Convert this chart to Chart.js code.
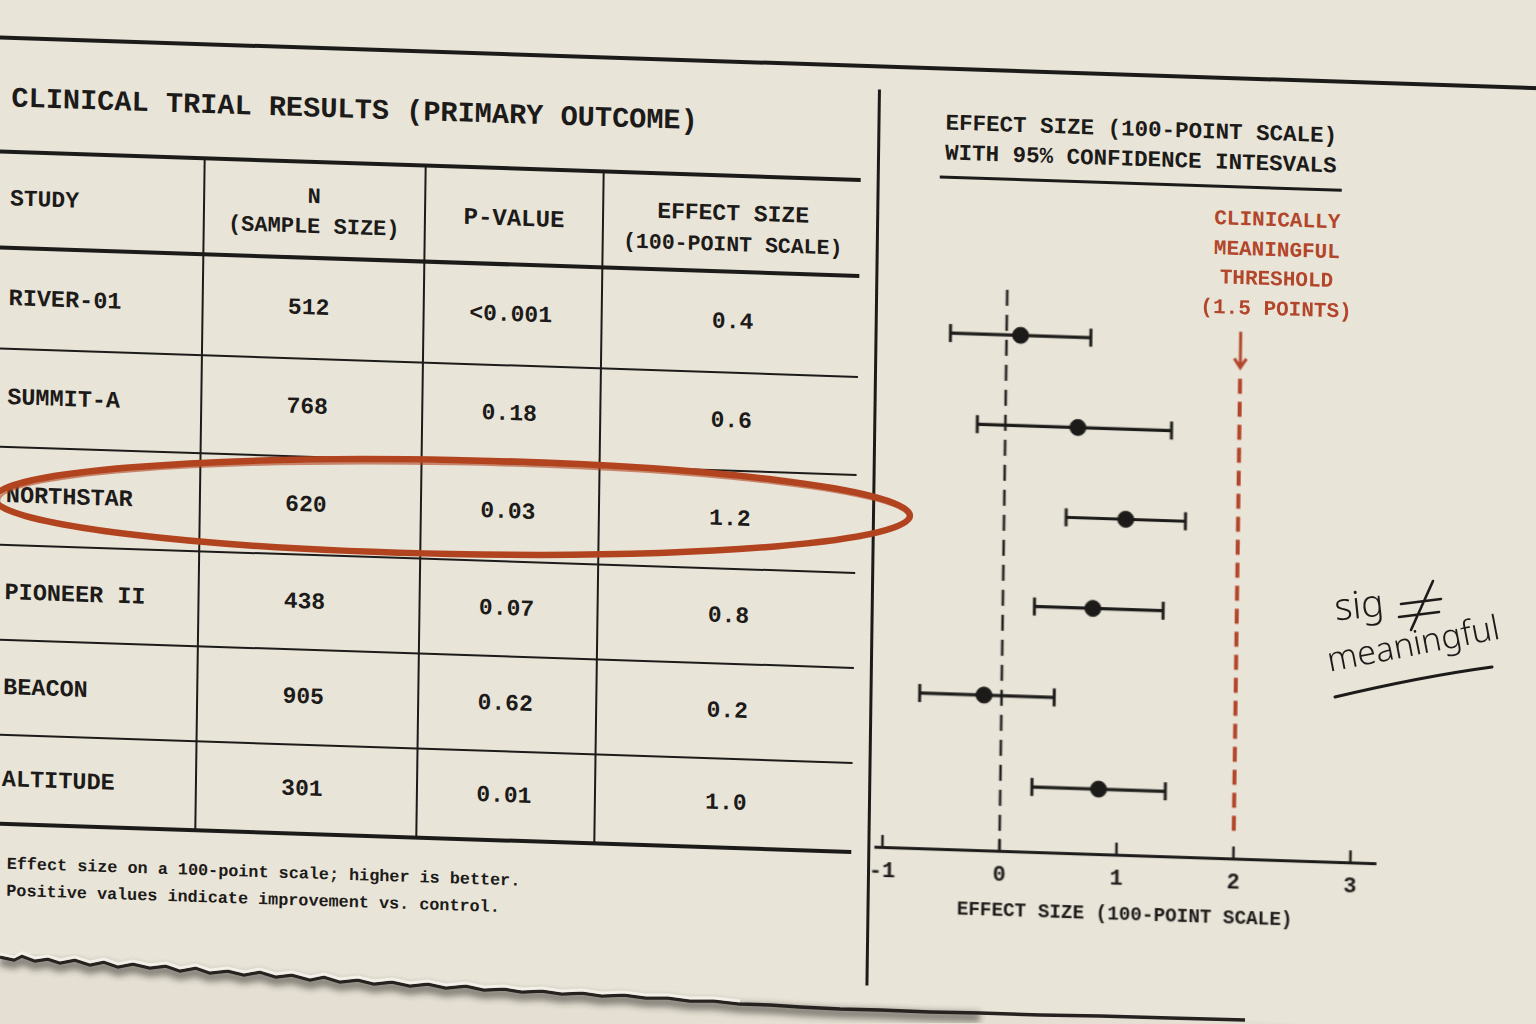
<!DOCTYPE html>
<html>
<head>
<meta charset="utf-8">
<script src="https://cdn.jsdelivr.net/npm/chart.js@4.4.0/dist/chart.umd.min.js"></script>
<style>
html, body { margin: 0; padding: 0; width: 1536px; height: 1024px; overflow: hidden; background: #ebe6da; }
#paper {
    position: absolute; left: 0; top: 0; width: 1536px; height: 1024px;
    transform-origin: 768px 512px;
    transform: matrix(1, 0.033, -0.014, 1, 0, 0);
    font-family: "Liberation Mono", "DejaVu Sans Mono", monospace;
    font-weight: bold; color: #1c1b19;
}
.ln { position: absolute; background: #1c1b19; }
.txt { position: absolute; white-space: pre; line-height: 1; }
#forest { position: absolute; left: 862px; top: 270px; }
.overlay { position: absolute; left: 0; top: 0; width: 1536px; height: 1024px; pointer-events: none; }
.hand { position: absolute; font-family: "Noto Sans", sans-serif; font-weight: 300; color: #1c1b19; white-space: pre; line-height: 1; }
</style>
</head>
<body>
<div id="paper">
    <canvas id="forest" width="538" height="653"></canvas>
</div>

<svg class="overlay" viewBox="0 0 1536 1024">
    <defs>
        <filter id="blur4"><feGaussianBlur stdDeviation="3"/></filter>
    </defs>
    <!-- circle round the NORTHSTAR row -->
    <g transform="rotate(1.1 452 507)" fill="none" stroke="#b3441f" stroke-linecap="round">
        <ellipse cx="452" cy="507" rx="458" ry="47" stroke-width="6.5"/>
        <ellipse cx="454" cy="509" rx="455" ry="45" stroke-width="2.5" opacity="0.6"/>
    </g>
    <!-- torn bottom edge -->
    <path id="tear-fill" fill="#e6e1d4" stroke="none"/>
    <path id="tear-shadow" fill="none" stroke="#2a2723" stroke-width="10" opacity="0.5" filter="url(#blur4)"/>
    <path id="tear-line" fill="none" stroke="#25221f" stroke-width="3.5"/>
    <path id="tear-fiber" fill="none" stroke="#f6f3ec" stroke-width="3" opacity="0.95"/>
    <!-- handwritten note: not-equal sign and underline -->
    <path d="M1401 604 L1441 599 M1399 617 L1439 612 M1433 581 L1411 630" fill="none" stroke="#1c1b19" stroke-width="2.6" stroke-linecap="round"/>
    <path d="M1335 697 C1390 684 1440 674 1492 667" fill="none" stroke="#1c1b19" stroke-width="3" stroke-linecap="round"/>
</svg>
<div class="hand" style="left:1334px; top:584px; font-size:38px; transform: rotate(-6deg);">sig</div>
<div class="hand" style="left:1327px; top:642px; font-size:34px; transform-origin: 0 50%; transform: rotate(-11deg);">meaningful</div>

<svg class="overlay" viewBox="0 0 1536 1024" style="mix-blend-mode: multiply;">
    <filter id="grain"><feTurbulence type="fractalNoise" baseFrequency="0.85" numOctaves="2" stitchTiles="stitch"/><feColorMatrix type="saturate" values="0"/></filter>
    <rect width="1536" height="1024" filter="url(#grain)" opacity="0.05"/>
</svg>

<script>
const studies = ['RIVER-01', 'SUMMIT-A', 'NORTHSTAR', 'PIONEER II', 'BEACON', 'ALTITUDE'];
const sampleSizes = ['512', '768', '620', '438', '905', '301'];
const pValues = ['<0.001', '0.18', '0.03', '0.07', '0.62', '0.01'];
const effectSizes = ['0.4', '0.6', '1.2', '0.8', '0.2', '1.0'];

// forest plot, as drawn
const ciLow = [-0.48, -0.24, 0.53, 0.27, -0.70, 0.27];
const estimate = [0.12, 0.62, 1.04, 0.77, -0.15, 0.84];
const ciHigh = [0.72, 1.42, 1.55, 1.37, 0.45, 1.41];
const threshold = 2.0;
const xMin = -1.06;
const xMax = 3.214;

const ink = '#1c1b19';
const rust = '#b4462a';
const mono = "'Liberation Mono', 'DejaVu Sans Mono', monospace";

const paper = document.getElementById('paper');

function addLine(x, y, w, h) {
    const el = document.createElement('div');
    el.className = 'ln';
    el.style.left = x + 'px';
    el.style.top = y + 'px';
    el.style.width = w + 'px';
    el.style.height = h + 'px';
    paper.appendChild(el);
}

function addText(text, x, y, size, align, color) {
    const el = document.createElement('div');
    el.className = 'txt';
    el.textContent = text;
    el.style.left = x + 'px';
    el.style.top = y + 'px';
    el.style.fontSize = size + 'px';
    el.style.transform = align === 'center' ? 'translate(-50%, -50%)' : 'translateY(-50%)';
    if (color) el.style.color = color;
    paper.appendChild(el);
}

// top rule and divider
addLine(-40, 61, 1620, 4);
addLine(872, 86, 2.5, 896);

// left: table
addText('CLINICAL TRIAL RESULTS (PRIMARY OUTCOME)', 6, 125, 28.6, 'left');

const rowLines = [177, 273, 374, 472, 570, 665, 760, 849];
const colLines = [200, 421, 599];
const tableRight = 856;
rowLines.forEach((y, i) => {
    const thick = (i < 2 || i === rowLines.length - 1) ? 3.5 : 2;
    addLine(-20, y - thick / 2, tableRight + 20, thick);
});
colLines.forEach(x => addLine(x - 1, rowLines[0], 2, rowLines[rowLines.length - 1] - rowLines[0]));

addText('STUDY', 6, 225, 23, 'left');
addText('N', 310, 213, 22, 'center');
addText('(SAMPLE SIZE)', 310, 243, 22, 'center');
addText('P-VALUE', 510, 228, 24, 'center');
addText('EFFECT SIZE', 729, 216, 23, 'center');
addText('(100-POINT SCALE)', 729, 247, 21.5, 'center');

studies.forEach((name, i) => {
    const cy = (rowLines[i + 1] + rowLines[i + 2]) / 2;
    addText(name, 6, cy, 23.5, 'left');
    addText(sampleSizes[i], 306, cy, 23, 'center');
    addText(pValues[i], 508, cy, 23, 'center');
    addText(effectSizes[i], 730, cy, 23, 'center');
});

addText('Effect size on a 100-point scale; higher is better.', 12, 890, 16.8, 'left');
addText('Positive values indicate improvement vs. control.', 12, 917, 16.8, 'left');

// right: forest plot headings
addText('EFFECT SIZE (100-POINT SCALE)', 940, 118, 22.5, 'left');
addText('WITH 95% CONFIDENCE INTESVALS', 940, 148, 22.5, 'left');
addLine(935, 169.5, 402, 3);

['CLINICALLY', 'MEANINGFUL', 'THRESHOLD', '(1.5 POINTS)'].forEach((t, i) => {
    addText(t, 1273, 204 + i * 29.7, 21, 'center', rust);
});

// torn edge (page coords)
const tearPts = [[0,957],[14,960],[22,956],[35,961],[48,959],[60,963],[75,960],[90,965],[104,962],[118,967],[133,964],[150,968],[166,966],[180,971],[196,968],[210,973],[228,971],[244,975],[260,972],[276,977],[292,975],[310,980],[324,977],[340,982],[358,980],[374,984],[392,982],[410,986],[428,984],[446,988],[466,986],[484,990],[504,989],[522,992],[542,991],[562,994],[582,993],[602,996],[624,995],[646,998],[668,998],[690,1001],[714,1001],[740,1004],[770,1005],[800,1007],[840,1009],[880,1010],[930,1012],[980,1013],[1040,1015],[1100,1016],[1170,1018],[1245,1020]];
const tearD = 'M' + tearPts.map(p => p.join(' ')).join(' L');
document.getElementById('tear-fill').setAttribute('d', tearD + ' L1300 1024 L0 1024 Z');
document.getElementById('tear-shadow').setAttribute('d', 'M' + tearPts.filter(p => p[0] < 1000).map(p => p[0] + ' ' + (p[1] + 4)).join(' L'));
document.getElementById('tear-line').setAttribute('d', tearD);
document.getElementById('tear-fiber').setAttribute('d', 'M' + tearPts.filter(p => p[0] < 760).map(p => p[0] + ' ' + (p[1] - 3)).join(' L'));

// forest plot
const rowIndex = studies.map((s, i) => i + 1);

const ciSets = studies.map((s, i) => ({
    label: s,
    data: [{ x: ciLow[i], y: rowIndex[i] }, { x: ciHigh[i], y: rowIndex[i] }],
    showLine: true,
    borderColor: ink,
    borderWidth: 3.2,
    pointStyle: 'line',
    rotation: 90,
    pointRadius: 9,
    pointBorderWidth: 3,
    pointBorderColor: ink,
    clip: false,
    order: 2
}));

const tickMarks = {
    id: 'tickMarks',
    afterDraw(chart) {
        const { ctx, chartArea, scales } = chart;
        const xs = scales.x, ys = scales.y;
        ctx.save();
        ctx.strokeStyle = ink;
        ctx.lineWidth = 2.5;
        xs.ticks.forEach(t => {
            const px = xs.getPixelForValue(t.value);
            ctx.beginPath();
            ctx.moveTo(px, chartArea.bottom - 12);
            ctx.lineTo(px, chartArea.bottom);
            ctx.stroke();
        });
        // arrow pointing at the threshold line
        const ax = xs.getPixelForValue(threshold);
        const top = ys.getPixelForValue(1.4);
        ctx.strokeStyle = rust;
        ctx.lineWidth = 3;
        ctx.beginPath();
        ctx.moveTo(ax, top - 47);
        ctx.lineTo(ax, top - 11);
        ctx.moveTo(ax - 6, top - 20);
        ctx.lineTo(ax, top - 11);
        ctx.lineTo(ax + 6, top - 20);
        ctx.stroke();
        ctx.restore();
    }
};

new Chart(document.getElementById('forest').getContext('2d'), {
    type: 'scatter',
    data: {
        datasets: [
            {
                label: 'Estimate',
                data: estimate.map((v, i) => ({ x: v, y: rowIndex[i] })),
                pointRadius: 8,
                pointBackgroundColor: ink,
                pointBorderColor: ink,
                pointBorderWidth: 1,
                clip: false,
                order: 0
            },
            ...ciSets,
            {
                label: 'No effect',
                data: [{ x: 0, y: 0.5 }, { x: 0, y: 6.72 }],
                showLine: true,
                borderColor: ink,
                borderWidth: 2.5,
                borderDash: [16, 9],
                pointRadius: 0,
                order: 3
            },
            {
                label: 'Threshold',
                data: [{ x: threshold, y: 1.4 }, { x: threshold, y: 6.5 }],
                showLine: true,
                borderColor: rust,
                borderWidth: 4,
                borderDash: [15, 8],
                pointRadius: 0,
                order: 3
            }
        ]
    },
    options: {
        responsive: false,
        animation: false,
        layout: { padding: { left: 18, right: 20, top: 11, bottom: 0 } },
        plugins: { legend: { display: false }, tooltip: { enabled: false } },
        scales: {
            x: {
                type: 'linear',
                min: xMin,
                max: xMax,
                afterFit: s => { s.height = 80; },
                grid: { display: false, drawTicks: false },
                border: { display: true, color: ink, width: 3 },
                ticks: {
                    stepSize: 1,
                    includeBounds: false,
                    padding: 11,
                    color: ink,
                    font: { family: mono, size: 22, weight: 'bold' }
                },
                title: {
                    display: true,
                    text: 'EFFECT SIZE (100-POINT SCALE)',
                    color: ink,
                    font: { family: mono, size: 19.3, weight: 'bold' },
                    padding: { top: 0, bottom: 8 }
                }
            },
            y: { type: 'linear', display: false, reverse: true, min: 0.5, max: 6.72 }
        }
    },
    plugins: [tickMarks]
});
</script>
</body>
</html>
